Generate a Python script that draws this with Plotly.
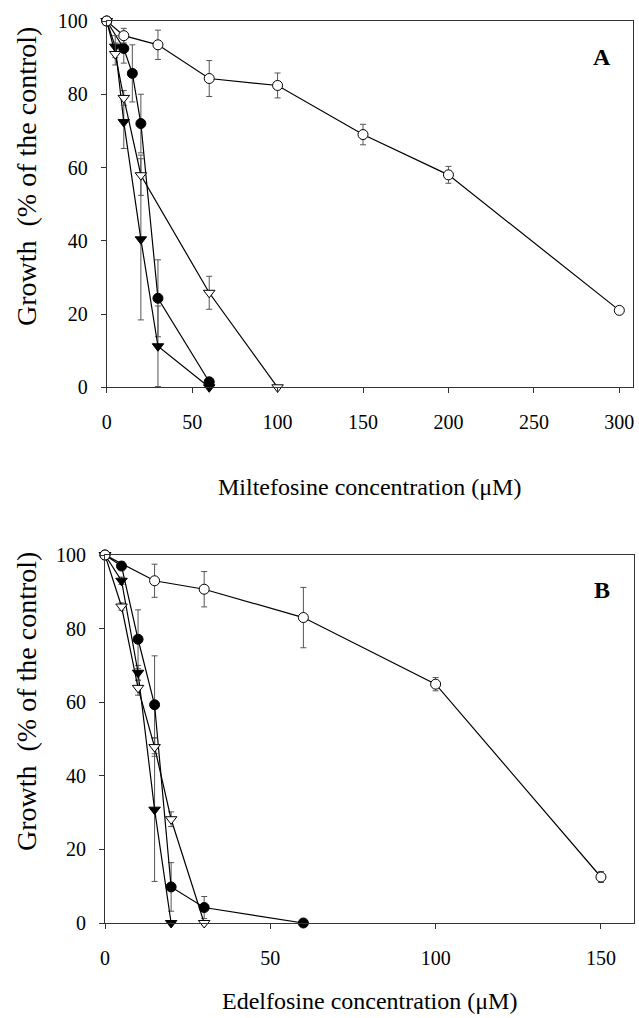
import plotly.graph_objects as go

# ---------------- Panel A (Miltefosine) ----------------
a_open_circle_x = [0, 10, 30, 60, 100, 150, 200, 300]
a_open_circle_y = [100, 96, 93.5, 84.3, 82.4, 69, 58, 21]
a_open_circle_e = [0, 2, 4, 4.9, 3.4, 2.8, 2.3, 1]

a_fill_circle_x = [0, 10, 15, 20, 30, 60]
a_fill_circle_y = [100, 92.5, 85.7, 72, 24.3, 1.5]
a_fill_circle_e = [0, 4, 7.8, 8, 10.5, 0.5]

a_fill_tri_x = [0, 5, 10, 20, 30, 60]
a_fill_tri_y = [100, 93, 72.4, 40.4, 11.2, 0]
a_fill_tri_e = [0, 3, 7.2, 22, 11, 0]

a_open_tri_x = [0, 5, 10, 20, 60, 100]
a_open_tri_y = [100, 91, 79, 57.9, 25.8, 0]
a_open_tri_e = [0, 3, 2, 5.5, 4.5, 0]

# ---------------- Panel B (Edelfosine) ----------------
b_open_circle_x = [0, 15, 30, 60, 100, 150]
b_open_circle_y = [100, 93, 90.7, 83, 64.9, 12.5]
b_open_circle_e = [0, 4.5, 4.8, 8.2, 1.8, 1.5]

b_fill_circle_x = [0, 5, 10, 15, 20, 30, 60]
b_fill_circle_y = [100, 97, 77.1, 59.3, 9.8, 4.2, 0]
b_fill_circle_e = [0, 1, 8, 13.3, 6.6, 3, 0]

b_fill_tri_x = [0, 5, 10, 15, 20]
b_fill_tri_y = [100, 93, 68, 30.8, 0]
b_fill_tri_e = [0, 1, 2, 19.5, 0]

b_open_tri_x = [0, 5, 10, 15, 20, 30]
b_open_tri_y = [100, 86, 63.9, 47.8, 28.2, 0]
b_open_tri_e = [0, 1, 2, 2.5, 2, 0]

a_xticks = [0, 50, 100, 150, 200, 250, 300]
b_xticks = [0, 50, 100, 150]
y_ticks = [0, 20, 40, 60, 80, 100]

FONT = "Liberation Serif"
W, H = 639, 1018

def px_x(p):
    return p / W

def px_y(p):
    return 1 - p / H

styles = {
    "open_circle": dict(symbol="circle", color="white"),
    "fill_circle": dict(symbol="circle", color="black"),
    "fill_tri": dict(symbol="triangle-down", color="black"),
    "open_tri": dict(symbol="triangle-down", color="white"),
}

fig = go.Figure()

def add(x, y, e, kind, xa, ya):
    st = styles[kind]
    fig.add_trace(go.Scatter(
        x=x, y=y, mode="lines+markers", xaxis=xa, yaxis=ya,
        line=dict(color="black", width=1.2),
        marker=dict(symbol=st["symbol"], size=10, color=st["color"],
                    line=dict(color="black", width=1)),
        error_y=dict(type="data", array=e, visible=True, color="#555555",
                     thickness=1, width=3),
        showlegend=False, cliponaxis=False,
    ))

add(a_fill_circle_x, a_fill_circle_y, a_fill_circle_e, "fill_circle", "x", "y")
add(a_fill_tri_x, a_fill_tri_y, a_fill_tri_e, "fill_tri", "x", "y")
add(a_open_tri_x, a_open_tri_y, a_open_tri_e, "open_tri", "x", "y")
add(a_open_circle_x, a_open_circle_y, a_open_circle_e, "open_circle", "x", "y")

add(b_fill_circle_x, b_fill_circle_y, b_fill_circle_e, "fill_circle", "x2", "y2")
add(b_fill_tri_x, b_fill_tri_y, b_fill_tri_e, "fill_tri", "x2", "y2")
add(b_open_tri_x, b_open_tri_y, b_open_tri_e, "open_tri", "x2", "y2")
add(b_open_circle_x, b_open_circle_y, b_open_circle_e, "open_circle", "x2", "y2")

tickfont = dict(family=FONT, size=20, color="black")
common_axis = dict(showgrid=False, zeroline=False, showline=True, linecolor="#333333",
                   linewidth=1, mirror=True, ticks="outside", ticklen=5,
                   tickcolor="#333333", tickfont=tickfont, automargin=False)

fig.update_layout(
    width=W, height=H,
    margin=dict(l=0, r=0, t=0, b=0, autoexpand=False),
    paper_bgcolor="white", plot_bgcolor="white",
    xaxis=dict(domain=[px_x(106.7), px_x(633)], range=[0, 308], anchor="y",
               tickvals=a_xticks, ticklabelstandoff=12, **common_axis),
    yaxis=dict(domain=[px_y(387.3), px_y(21)], range=[0, 100], anchor="x",
               tickvals=y_ticks, ticklabelstandoff=9, **common_axis),
    xaxis2=dict(domain=[px_x(105), px_x(634)], range=[0, 160], anchor="y2",
                tickvals=b_xticks, ticklabelstandoff=12, **common_axis),
    yaxis2=dict(domain=[px_y(923), px_y(555)], range=[0, 100], anchor="x2",
                tickvals=y_ticks, ticklabelstandoff=9, **common_axis),
)

xtitle_font = dict(family=FONT, size=24, color="black")
ytitle_font = dict(family=FONT, size=28, color="black")
fig.add_annotation(text="Miltefosine concentration (μM)", xref="paper", yref="paper",
                   x=px_x(369), y=px_y(487), showarrow=False, font=xtitle_font,
                   xanchor="center", yanchor="middle")
fig.add_annotation(text="Edelfosine concentration (μM)", xref="paper", yref="paper",
                   x=px_x(369), y=px_y(1001), showarrow=False, font=xtitle_font,
                   xanchor="center", yanchor="middle")
fig.add_annotation(text="Growth  (% of the control)", xref="paper", yref="paper",
                   x=px_x(26), y=px_y(177), showarrow=False, font=ytitle_font,
                   textangle=-90, xanchor="center", yanchor="middle")
fig.add_annotation(text="Growth  (% of the control)", xref="paper", yref="paper",
                   x=px_x(26), y=px_y(702), showarrow=False, font=ytitle_font,
                   textangle=-90, xanchor="center", yanchor="middle")
fig.add_annotation(text="<b>A</b>", xref="paper", yref="paper",
                   x=px_x(602), y=px_y(57), showarrow=False,
                   font=dict(family=FONT, size=24, color="black"),
                   xanchor="center", yanchor="middle")
fig.add_annotation(text="<b>B</b>", xref="paper", yref="paper",
                   x=px_x(602), y=px_y(590), showarrow=False,
                   font=dict(family=FONT, size=24, color="black"),
                   xanchor="center", yanchor="middle")

fig.write_html("out.html")
